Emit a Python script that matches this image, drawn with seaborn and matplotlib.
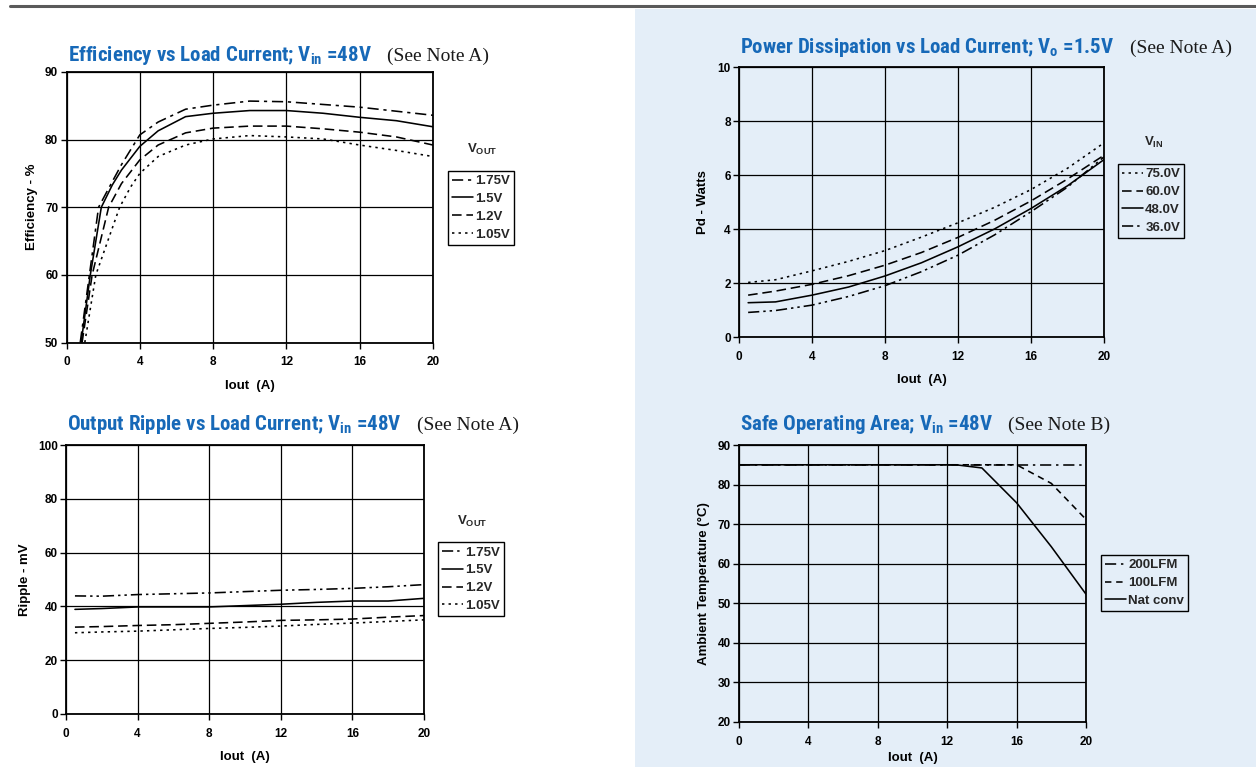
import os
import numpy as np
import pandas as pd
import matplotlib
matplotlib.use("Agg")
import matplotlib.pyplot as plt
import seaborn as sns
from matplotlib import font_manager as fm
from matplotlib.font_manager import FontProperties
from matplotlib.offsetbox import TextArea, HPacker, AnchoredOffsetbox
from matplotlib.patches import Rectangle
from matplotlib.lines import Line2D

# ---------------- data ----------------
# Efficiency vs load current (Vin = 48V)
eff_i_175 = [0.75, 1.25, 1.75, 2.5, 3, 4, 5, 6.5, 8, 10, 12, 14, 16, 18, 20]
eff_175 = [50, 60, 70, 73.8, 76.3, 80.7, 82.6, 84.5, 85.1, 85.7, 85.6, 85.2, 84.8, 84.2, 83.6]
eff_i_150 = [0.8, 1.3, 1.9, 2.5, 3, 4, 5, 6.5, 8, 10, 12, 14, 16, 18, 20]
eff_150 = [50, 60, 70, 73.3, 75.5, 79, 81.3, 83.4, 83.9, 84.3, 84.3, 83.9, 83.3, 82.8, 81.9]
eff_i_120 = [0.85, 1.4, 2.3, 3, 4, 5, 6.5, 8, 10, 12, 14, 16, 18, 20]
eff_120 = [50, 60, 70, 73.5, 77, 79.2, 81, 81.7, 82.0, 82.0, 81.6, 81.1, 80.4, 79.2]
eff_i_105 = [1.0, 1.6, 2.9, 3.5, 4, 5, 6.5, 8, 10, 12, 14, 16, 18, 20]
eff_105 = [50, 60, 70, 73, 75, 77.5, 79.2, 80.1, 80.6, 80.4, 80.1, 79.2, 78.4, 77.5]
eff_labels = ["1.75V", "1.5V", "1.2V", "1.05V"]

# Power dissipation vs load current (Vo = 1.5V)
pd_i = [0.5, 2, 4, 6, 8, 10, 12, 14, 16, 18, 20]
pd_75 = [2.02, 2.12, 2.45, 2.8, 3.2, 3.7, 4.23, 4.8, 5.46, 6.25, 7.19]
pd_60 = [1.55, 1.7, 1.95, 2.27, 2.66, 3.13, 3.69, 4.32, 5.04, 5.85, 6.73]
pd_48 = [1.27, 1.3, 1.55, 1.85, 2.26, 2.75, 3.34, 4.0, 4.76, 5.6, 6.57]
pd_36 = [0.91, 0.98, 1.18, 1.5, 1.9, 2.42, 3.03, 3.78, 4.64, 5.55, 6.67]
pd_labels = ["75.0V", "60.0V", "48.0V", "36.0V"]

# Output ripple vs load current (Vin = 48V)
rp_i = [0.5, 2, 4, 6, 8, 10, 12, 14, 16, 18, 20]
rp_175 = [43.9, 43.8, 44.4, 44.7, 45, 45.5, 46, 46.3, 46.7, 47.3, 48.1]
rp_150 = [38.9, 39.2, 39.8, 39.8, 39.8, 40.3, 40.8, 41.5, 42, 42, 43]
rp_120 = [32.3, 32.5, 32.9, 33.2, 33.7, 34.2, 34.8, 35, 35.3, 36, 36.6]
rp_105 = [30.2, 30.5, 30.8, 31.3, 31.8, 32.2, 32.7, 33.3, 33.8, 34.4, 35]
rp_labels = ["1.75V", "1.5V", "1.2V", "1.05V"]

# Safe operating area (Vin = 48V)
soa_i_200 = [0, 20]
soa_200 = [85, 85]
soa_i_100 = [0, 16, 18, 20]
soa_100 = [85, 85, 80.3, 71.2]
soa_i_nat = [0, 12.5, 14, 16, 18, 20]
soa_nat = [85, 85, 84.2, 75.4, 64.3, 52.3]
soa_labels = ["200LFM", "100LFM", "Nat conv"]

# ---------------- style ----------------
sns.set_theme(style="white")
plt.rcParams["font.family"] = ["Liberation Sans", "DejaVu Sans"]
plt.rcParams["font.weight"] = "bold"
plt.rcParams["mathtext.default"] = "regular"


def pick_font(keys):
    files = [f.fname for f in fm.fontManager.ttflist]
    for key in keys:
        for fn in files:
            if os.path.basename(fn).lower() == key:
                return fn
    for fn in files:
        b = os.path.basename(fn).lower()
        if ("condensed" in b or "narrow" in b) and "bold" in b and "oblique" not in b and "italic" not in b:
            return fn
    return None


COND = pick_font(["liberationsansnarrow-bold.ttf", "robotocondensed-bold.ttf",
                  "dejavusanscondensed-bold.ttf"])


def title_prop(size):
    if COND:
        return FontProperties(fname=COND, size=size)
    return FontProperties(family="DejaVu Sans", weight="bold", size=size)


TBLUE = "#1769b8"
BLUE_BG = "#e4eef8"
TICK_FS = 8.5
LAB_FS = 9.5
LEG_FS = 9.5

DASHDOT = (0, (7, 3, 2, 3))
DASHDOTDOT = (0, (7, 2.5, 1.5, 2.5, 1.5, 2.5))
DASH = (0, (6, 3))
SDASH = (0, (4, 3))
DOT = (0, (1.5, 2.6))

W, H = 1256, 767
fig = plt.figure(figsize=(W / 100, H / 100), dpi=100)
fig.patch.set_facecolor("white")
fig.add_artist(Rectangle((635 / W, 0), 1 - 635 / W, 1 - 9 / H, transform=fig.transFigure,
                         facecolor=BLUE_BG, edgecolor="none", zorder=-10))
fig.add_artist(Line2D([10 / W, 1], [1 - 6 / H, 1 - 6 / H], transform=fig.transFigure,
                      color="#5a5a5a", lw=2.2))


def axes_px(l, t, r, b):
    return fig.add_axes([l / W, 1 - b / H, (r - l) / W, (b - t) / H])


ax1 = axes_px(66.5, 72, 433, 342.5)
ax2 = axes_px(739, 67, 1104, 337)
ax3 = axes_px(66, 445, 424, 714)
ax4 = axes_px(739, 445, 1086, 722)


def style(ax, ylim, ystep, ylabel, face, ylpad, xlpad=8):
    ax.set_facecolor(face)
    ax.set_xlim(0, 20)
    ax.set_ylim(*ylim)
    ax.set_xticks(np.arange(0, 21, 4))
    ax.set_yticks(np.arange(ylim[0], ylim[1] + 0.01, ystep))
    ax.grid(True, color="black", lw=0.9)
    ax.set_axisbelow(True)
    for s in ax.spines.values():
        s.set_visible(True)
        s.set_color("black")
        s.set_linewidth(1.3)
    ax.tick_params(axis="both", which="major", direction="out", length=4, width=1,
                   color="black", labelsize=TICK_FS, labelcolor="black",
                   bottom=True, left=True, top=False, right=False)
    ax.tick_params(axis="x", pad=6)
    ax.tick_params(axis="y", pad=2)
    ax.set_xlabel("Iout  (A)", fontsize=LAB_FS, fontweight="bold", color="black", labelpad=xlpad)
    ax.set_ylabel(ylabel, fontsize=LAB_FS, fontweight="bold", color="black", labelpad=ylpad)


def draw(ax, x, y, ls, label):
    sns.lineplot(x=x, y=y, ax=ax, color="black", lw=1.15, linestyle=ls, label=label,
                 sort=False, errorbar=None)


def legend(ax, fx, fy, face):
    h, l = ax.get_legend_handles_labels()
    leg = ax.legend(h, l, loc="upper left", bbox_to_anchor=(fx, fy), borderaxespad=0,
                    frameon=True, fancybox=False, edgecolor="black", facecolor=face,
                    framealpha=1, fontsize=LEG_FS, handlelength=1.6, handletextpad=0.15,
                    labelspacing=0.42, borderpad=0.32)
    leg.get_frame().set_linewidth(1.0)
    for t in leg.get_texts():
        t.set_fontweight("bold")
    return leg


def fit_size(text, target, base=15):
    r = fig.canvas.get_renderer()
    t = fig.text(0, 0, text, fontproperties=title_prop(base))
    w = t.get_window_extent(r).width
    t.remove()
    return min(base, base * target / w)


def title(ax, main, note, target, yfrac):
    size = fit_size(main, target)
    t1 = TextArea(main, textprops=dict(color=TBLUE, fontproperties=title_prop(size)))
    t2 = TextArea(note, textprops=dict(color="#1a1a1a", fontsize=14, fontweight="normal",
                                       family=["Liberation Serif", "DejaVu Serif"]))
    pk = HPacker(children=[t1, t2], align="baseline", pad=0, sep=11)
    ab = AnchoredOffsetbox(loc="lower left", child=pk, bbox_to_anchor=(0.003, yfrac),
                           bbox_transform=ax.transAxes, frameon=False, pad=0, borderpad=0)
    ax.add_artist(ab)


# ---- Efficiency ----
draw(ax1, eff_i_175, eff_175, DASHDOT, eff_labels[0])
draw(ax1, eff_i_150, eff_150, "-", eff_labels[1])
draw(ax1, eff_i_120, eff_120, DASH, eff_labels[2])
draw(ax1, eff_i_105, eff_105, DOT, eff_labels[3])
style(ax1, (50, 90), 10, "Efficiency - %", "white", 5)
legend(ax1, 1.041, 0.635, "white")
ax1.text(1.134, 0.712, r"V$_{OUT}$", transform=ax1.transAxes, ha="center", va="center",
         fontsize=LEG_FS, fontweight="bold")
title(ax1, r"Efficiency vs Load Current; V$_{in}$ =48V", "(See Note A)", 316, 1.019)

# ---- Power dissipation ----
draw(ax2, pd_i, pd_75, DOT, pd_labels[0])
draw(ax2, pd_i, pd_60, DASH, pd_labels[1])
draw(ax2, pd_i, pd_48, "-", pd_labels[2])
draw(ax2, pd_i, pd_36, DASHDOTDOT, pd_labels[3])
style(ax2, (0, 10), 2, "Pd - Watts", BLUE_BG, 6)
legend(ax2, 1.038, 0.641, BLUE_BG)
ax2.text(1.135, 0.722, r"V$_{IN}$", transform=ax2.transAxes, ha="center", va="center",
         fontsize=LEG_FS, fontweight="bold")
title(ax2, r"Power Dissipation vs Load Current; V$_{o}$ =1.5V", "(See Note A)", 388, 1.029)

# ---- Ripple ----
draw(ax3, rp_i, rp_175, DASHDOTDOT, rp_labels[0])
draw(ax3, rp_i, rp_150, "-", rp_labels[1])
draw(ax3, rp_i, rp_120, DASH, rp_labels[2])
draw(ax3, rp_i, rp_105, DOT, rp_labels[3])
style(ax3, (0, 100), 20, "Ripple - mV", "white", 5)
legend(ax3, 1.039, 0.639, "white")
ax3.text(1.134, 0.717, r"V$_{OUT}$", transform=ax3.transAxes, ha="center", va="center",
         fontsize=LEG_FS, fontweight="bold")
title(ax3, r"Output Ripple vs Load Current; V$_{in}$ =48V", "(See Note A)", 351, 1.033)

# ---- SOA ----
draw(ax4, soa_i_200, soa_200, (0, (7, 3, 1.5, 3)), soa_labels[0])
draw(ax4, soa_i_100, soa_100, SDASH, soa_labels[1])
draw(ax4, soa_i_nat, soa_nat, "-", soa_labels[2])
style(ax4, (20, 90), 10, "Ambient Temperature (°C)", BLUE_BG, 5, xlpad=3)
legend(ax4, 1.043, 0.603, BLUE_BG)
title(ax4, r"Safe Operating Area; V$_{in}$ =48V", "(See Note B)", 262, 1.032)

fig.savefig("out.png", dpi=100)
